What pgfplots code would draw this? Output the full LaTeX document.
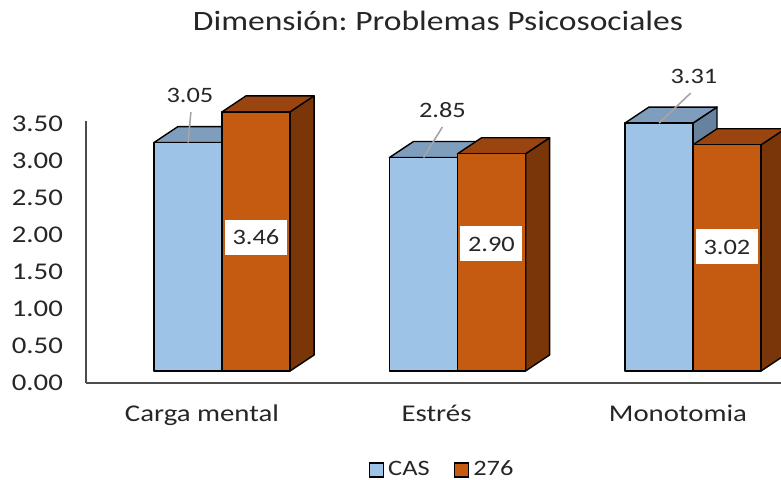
\documentclass[border=0pt]{standalone}
\usepackage{pgfplots}
\pgfplotsset{compat=1.18}
\usepackage{fontspec}
\setmainfont[FakeStretch=1.2]{Carlito}
\frenchspacing

\definecolor{casfront}{HTML}{9DC3E6}
\definecolor{castop}{HTML}{7F9DBC}
\definecolor{casside}{HTML}{66829F}
\definecolor{ofront}{HTML}{C55A11}
\definecolor{otop}{HTML}{9A4410}
\definecolor{oside}{HTML}{7A3609}
\definecolor{txt}{HTML}{262626}

% depth of the boxes, in axis units
\newcommand\ddx{0.102}
\newcommand\ddy{0.2136}

% \cube{left}{right}{value}{front}{top}{side}
\newcommand\cube[6]{%
  \pgfmathsetmacro\xa{#1}\pgfmathsetmacro\xb{#2}%
  \pgfmathsetmacro\xc{#1+\ddx}\pgfmathsetmacro\xd{#2+\ddx}%
  \pgfmathsetmacro\yt{#3+\ddy}%
  \addplot[forget plot, fill=#6, draw=black, line width=0.7pt, line join=round]
    coordinates {(\xb,0) (\xd,\ddy) (\xd,\yt) (\xb,#3)} -- cycle;
  \addplot[forget plot, fill=#5, draw=black, line width=0.7pt, line join=round]
    coordinates {(\xa,#3) (\xb,#3) (\xd,\yt) (\xc,\yt)} -- cycle;
  \addplot[forget plot, fill=#4, draw=black, line width=0.7pt, line join=round]
    coordinates {(\xa,0) (\xb,0) (\xb,#3) (\xa,#3)} -- cycle;
}

\begin{document}
\begin{tikzpicture}
\path[use as bounding box] (0,0) rectangle (390.5pt,240pt);

\node[anchor=base, text=txt, font=\fontsize{14}{16}\selectfont]
  at (219pt,224.5pt) {Dimensión: Problemas Psicosociales};

% value axis
\begin{axis}[
    at={(43pt,48.5pt)}, anchor=south west,
    scale only axis, width=347.5pt, height=131pt,
    xmin=0, xmax=1, ymin=0, ymax=3.5405,
    xtick=\empty,
    ytick={0,0.5,1,1.5,2,2.5,3,3.5},
    axis lines*=left,
    axis line style={draw=black!70, line width=1pt},
    major tick length=0pt,
    /pgf/number format/assume math mode=true,
    yticklabel style={/pgf/number format/fixed, /pgf/number format/fixed zerofill,
      /pgf/number format/precision=2, text=txt, xshift=-8pt,
      font=\fontsize{12}{14}\selectfont},
]
\end{axis}

% bars
\begin{axis}[
    at={(43pt,48.5pt)}, anchor=south west,
    scale only axis, width=347.5pt, height=131pt,
    xmin=-0.5775, xmax=2.3737, ymin=-0.1602, ymax=3.3378,
    clip=false,
    axis line style={draw=none},
    major tick length=0pt,
    ytick=\empty,
    xtick={-0.085,0.911,1.936},
    xticklabels={Carga mental, Estrés, Monotomia},
    xticklabel style={anchor=base, yshift=-19.5pt, text=txt,
      font=\fontsize{12}{14}\selectfont},
    legend style={at={(0.5137,-0.332)}, anchor=center, draw=none, fill=none,
      legend columns=2, font=\fontsize{11}{13}\selectfont, text=txt,
      /tikz/every even column/.append style={column sep=10pt}},
    legend image code/.code={\draw[#1, line width=0.8pt] (0pt,-3.5pt) rectangle (7pt,3.5pt);},
]
\addlegendimage{fill=casfront, draw=black}
\addlegendentry{CAS}
\addlegendimage{fill=ofront, draw=black}
\addlegendentry{276}

% Carga mental
\cube{-0.289}{0}{3.05}{casfront}{castop}{casside}
\cube{0}{0.289}{3.46}{ofront}{otop}{oside}
% Estres
\cube{0.711}{1}{2.85}{casfront}{castop}{casside}
\cube{1}{1.289}{2.90}{ofront}{otop}{oside}
% Monotomia
\cube{1.711}{2}{3.31}{casfront}{castop}{casside}
\cube{2}{2.289}{3.02}{ofront}{otop}{oside}

% CAS labels with leader lines
\draw[black!35, line width=0.8pt] (axis cs:-0.132,3.458) -- (axis cs:-0.144,3.05);
\draw[black!35, line width=0.8pt] (axis cs:0.936,3.258) -- (axis cs:0.856,2.85);
\draw[black!35, line width=0.8pt] (axis cs:1.99,3.71) -- (axis cs:1.856,3.31);
\node[text=txt, font=\fontsize{11}{13}\selectfont] at (axis cs:-0.136,3.685) {3.05};
\node[text=txt, font=\fontsize{11}{13}\selectfont] at (axis cs:0.936,3.485) {2.85};
\node[text=txt, font=\fontsize{11}{13}\selectfont] at (axis cs:2.004,3.939) {3.31};

% 276 labels in white boxes
\node[fill=white, text=txt, font=\fontsize{11}{13}\selectfont, minimum width=31pt,
  minimum height=17.5pt, inner sep=0pt] at (axis cs:0.144,1.782) {3.46};
\node[fill=white, text=txt, font=\fontsize{11}{13}\selectfont, minimum width=31pt,
  minimum height=17.5pt, inner sep=0pt] at (axis cs:1.144,1.696) {2.90};
\node[fill=white, text=txt, font=\fontsize{11}{13}\selectfont, minimum width=31pt,
  minimum height=17.5pt, inner sep=0pt] at (axis cs:2.144,1.656) {3.02};
\end{axis}
\end{tikzpicture}
\end{document}
